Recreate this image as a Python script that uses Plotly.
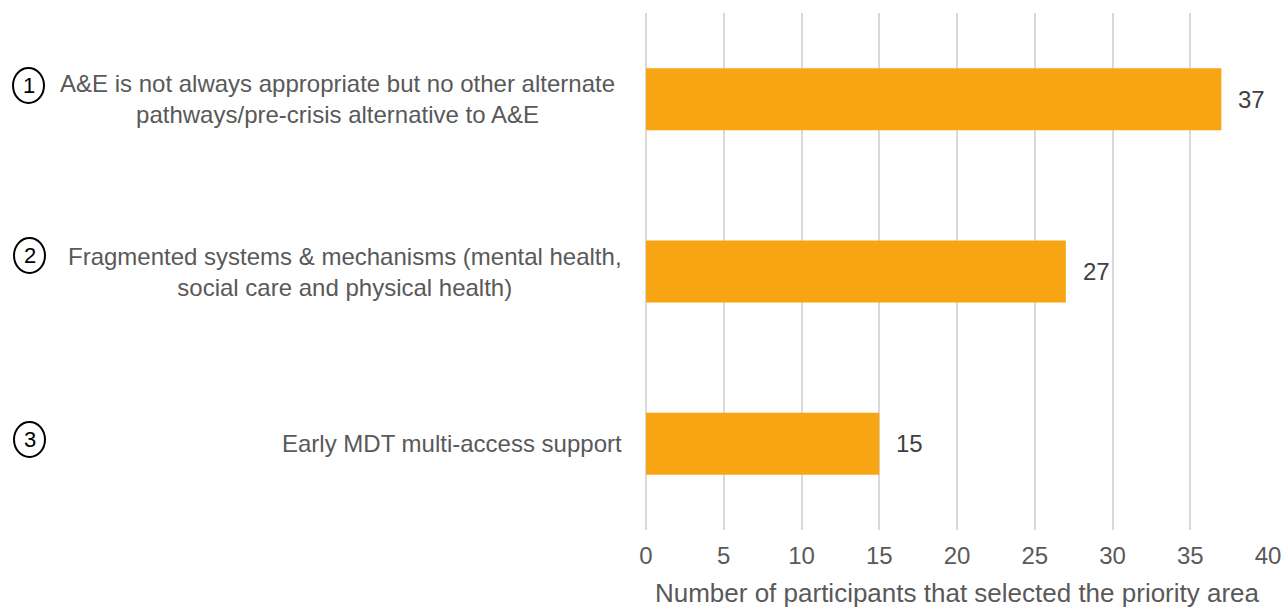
import plotly.graph_objects as go

# ---- data ----
categories = ["c1", "c2", "c3"]
labels = [
    "A&E is not always appropriate but no other alternate<br>pathways/pre-crisis alternative to A&E",
    "Fragmented systems & mechanisms (mental health,<br>social care and physical health)",
    "Early MDT multi-access support",
]
numbers = ["1", "2", "3"]
values = [37, 27, 15]
x_ticks = [0, 5, 10, 15, 20, 25, 30, 35, 40]
x_title = "Number of participants that selected the priority area"

# ---- layout geometry (page pixels) ----
FW, FH = 1283, 608
PLOT_L, PLOT_R, PLOT_T, PLOT_B = 646, 1268, 13, 530
L = PLOT_L
R = FW - PLOT_R
T = PLOT_T
B = FH - PLOT_B
W = FW - L - R
H = FH - T - B

def px_x(p):
    return (p - L) / W

def px_y(p):
    return (FH - B - p) / H

label_right_px = [617, 624, 624]
circle_boxes = [(13, 68, 44, 103), (14, 238, 45, 273), (14, 422, 45, 457)]

BAR = "#F7A512"
TXT = "#595959"
GRID = "#D9D9D9"
FONT = "Liberation Sans, Arial, sans-serif"

fig = go.Figure(
    go.Bar(
        x=values,
        y=categories,
        orientation="h",
        marker=dict(color=BAR, line=dict(width=0)),
        width=0.36,
        hoverinfo="skip",
    )
)

annotations = []
for c, v in zip(categories, values):
    annotations.append(dict(
        x=v, y=c, xref="x", yref="y", text=str(v), showarrow=False,
        xanchor="left", yanchor="middle", xshift=15,
        font=dict(family=FONT, size=24, color="#404040"),
    ))
for c, lab, rp in zip(categories, labels, label_right_px):
    annotations.append(dict(
        x=px_x(rp), y=c, xref="paper", yref="y", text=lab, showarrow=False,
        xanchor="right", yanchor="middle", align="center",
        font=dict(family=FONT, size=24, color=TXT),
    ))
shapes = []
for n, (x0, y0, x1, y1) in zip(numbers, circle_boxes):
    shapes.append(dict(
        type="circle", xref="paper", yref="paper",
        x0=px_x(x0), x1=px_x(x1), y0=px_y(y1), y1=px_y(y0),
        line=dict(color="black", width=2), fillcolor="rgba(0,0,0,0)",
    ))
    annotations.append(dict(
        x=px_x((x0 + x1) / 2), y=px_y((y0 + y1) / 2), xref="paper", yref="paper",
        text=n, showarrow=False, xanchor="center", yanchor="middle",
        font=dict(family=FONT, size=22, color="black"),
    ))

fig.update_layout(
    width=FW, height=FH,
    margin=dict(l=L, r=R, t=T, b=B, pad=0, autoexpand=False),
    paper_bgcolor="white", plot_bgcolor="white",
    showlegend=False,
    annotations=annotations,
    shapes=shapes,
    xaxis=dict(
        range=[0, 40], tickvals=x_ticks, ticktext=[str(t) for t in x_ticks],
        showgrid=True, gridcolor=GRID, gridwidth=1.5,
        zeroline=True, zerolinecolor=GRID, zerolinewidth=1.5,
        showline=False, ticks="", ticklabelstandoff=9, automargin=False,
        tickfont=dict(family=FONT, size=24, color=TXT),
        title=dict(text=x_title, standoff=19,
                   font=dict(family=FONT, size=26, color=TXT)),
    ),
    yaxis=dict(
        categoryorder="array", categoryarray=categories,
        autorange="reversed", showticklabels=False, showgrid=False,
        zeroline=False, showline=False, ticks="", automargin=False,
    ),
)

fig.write_html(
    "out.html",
    config={"displayModeBar": False},
    post_script="document.body.style.margin='0';document.body.style.overflow='hidden';",
)
